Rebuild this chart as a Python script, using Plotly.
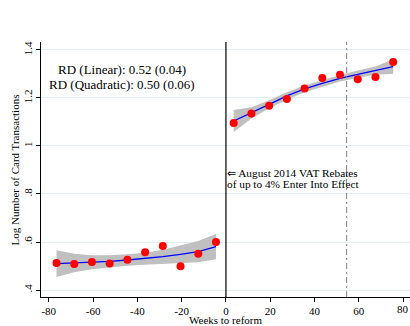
import plotly.graph_objects as go

# ---- data ----
weeks_pre = [-76.5, -68.5, -60.5, -52.5, -44.5, -36.5, -28.5, -20.5, -12.5, -4.5]
log_tx_pre = [0.5125, 0.508, 0.517, 0.511, 0.526, 0.557, 0.583, 0.499, 0.551, 0.600]
fit_pre = [0.510, 0.5125, 0.5153, 0.5194, 0.525, 0.5306, 0.5389, 0.5486, 0.5597, 0.5806]
ci_half_pre = [0.0556, 0.0389, 0.0292, 0.025, 0.0236, 0.025, 0.0292, 0.0361, 0.0444, 0.0528]

weeks_post = [3.5, 11.5, 19.5, 27.5, 35.5, 43.5, 51.5, 59.5, 67.5, 75.5]
log_tx_post = [1.096, 1.135, 1.168, 1.196, 1.239, 1.283, 1.297, 1.278, 1.2875, 1.35]
fit_post = [1.104, 1.1375, 1.1736, 1.2083, 1.2375, 1.2611, 1.2819, 1.2986, 1.3139, 1.3306]
ci_half_post = [0.0458, 0.0236, 0.0167, 0.0153, 0.0139, 0.0139, 0.0139, 0.0153, 0.0167, 0.0306]

reform_week = 0
rebate_week = 54.5

x_ticks = [-80, -60, -40, -20, 0, 20, 40, 60, 80]
x_tick_labels = ["-80", "-60", "-40", "-20", "0", "20", "40", "60", "80"]
y_ticks = [0.4, 0.6, 0.8, 1.0, 1.2, 1.4]
y_tick_labels = [".4", ".6", ".8", "1", "1.2", "1.4"]

rd_lines = ["RD (Linear): 0.52 (0.04)", "RD (Quadratic): 0.50 (0.06)"]
vat_lines = ["\u21d0 August 2014 VAT Rebates", "of up to 4% Enter Into Effect"]
x_title = "Weeks to reform"
y_title = "Log Number of Card Transactions"

FONT = "Liberation Serif"
BAND = "rgb(192,192,192)"

fig = go.Figure()

for wk, y, fit, hw in [(weeks_pre, log_tx_pre, fit_pre, ci_half_pre),
                       (weeks_post, log_tx_post, fit_post, ci_half_post)]:
    lower = [f - h for f, h in zip(fit, hw)]
    upper = [f + h for f, h in zip(fit, hw)]
    fig.add_trace(go.Scatter(x=wk, y=lower, mode="lines", line=dict(width=0, color=BAND),
                             showlegend=False, hoverinfo="skip"))
    fig.add_trace(go.Scatter(x=wk, y=upper, mode="lines", line=dict(width=0, color=BAND),
                             fill="tonexty", fillcolor=BAND, showlegend=False, hoverinfo="skip"))
    fig.add_trace(go.Scatter(x=wk, y=fit, mode="lines", line=dict(color="#0000ff", width=1.3),
                             showlegend=False))
    fig.add_trace(go.Scatter(x=wk, y=y, mode="markers",
                             marker=dict(color="#ff0000", size=8, line=dict(width=0)),
                             showlegend=False))

fig.add_shape(type="line", x0=reform_week, x1=reform_week, y0=0, y1=1, xref="x", yref="paper",
              line=dict(color="black", width=1.2))
fig.add_shape(type="line", x0=rebate_week, x1=rebate_week, y0=0, y1=1, xref="x", yref="paper",
              line=dict(color="rgb(128,128,128)", width=1, dash="6px,3px,2px,3px"))

fig.add_annotation(x=-47, y=1.317, text=rd_lines[0], showarrow=False, xanchor="center",
                   yanchor="middle", font=dict(family=FONT, size=13, color="black"))
fig.add_annotation(x=-47, y=1.256, text=rd_lines[1], showarrow=False, xanchor="center",
                   yanchor="middle", font=dict(family=FONT, size=13, color="black"))
fig.add_annotation(x=30.2, y=0.886, text=vat_lines[0], showarrow=False, xanchor="center",
                   yanchor="middle", font=dict(family=FONT, size=11.3, color="black"))
fig.add_annotation(x=30.2, y=0.840, text=vat_lines[1], showarrow=False, xanchor="center",
                   yanchor="middle", font=dict(family=FONT, size=11.3, color="black"))

# last x tick label (plotly hides it at the div edge), drawn as text at the tick
fig.add_annotation(x=x_ticks[-1], y=0.0, xref="x", yref="paper", text=x_tick_labels[-1],
                   showarrow=False, xanchor="center", yanchor="top", yshift=-4,
                   font=dict(family=FONT, size=11, color="black"))

# axis titles as paper-anchored text
fig.add_annotation(x=0, y=0.0, xref="x", yref="paper", text=x_title, showarrow=False,
                   xanchor="center", yanchor="top", yshift=-15,
                   font=dict(family=FONT, size=11, color="black"))
fig.add_annotation(x=0, y=0.5, xref="paper", yref="paper", text=y_title, showarrow=False,
                   textangle=-90, xanchor="right", yanchor="middle", xshift=-19,
                   font=dict(family=FONT, size=11, color="black"))

fig.update_layout(
    width=410, height=326,
    margin=dict(l=41, r=0, t=42, b=29),
    paper_bgcolor="white", plot_bgcolor="white",
    font=dict(family=FONT, size=11, color="black"),
    showlegend=False,
)
fig.update_xaxes(range=[-83.5, 83.1], tickvals=x_ticks,
                 ticktext=x_tick_labels[:-1] + [""],
                 ticks="outside", ticklen=4,
                 tickcolor="black", showline=True, linecolor="black", linewidth=1.2,
                 showgrid=False, zeroline=False, automargin=False,
                 tickfont=dict(size=11))
fig.update_yaxes(range=[0.371, 1.433], tickvals=y_ticks, ticktext=y_tick_labels, tickangle=-90,
                 ticks="outside", ticklen=4, tickcolor="black", showline=True,
                 linecolor="black", linewidth=1.2, showgrid=True, gridcolor="#e4eef0",
                 gridwidth=1, zeroline=False, automargin=False,
                 tickfont=dict(size=11))

fig.write_html("out.html", post_script="document.body.style.margin='0';",
               config={"displayModeBar": False})
